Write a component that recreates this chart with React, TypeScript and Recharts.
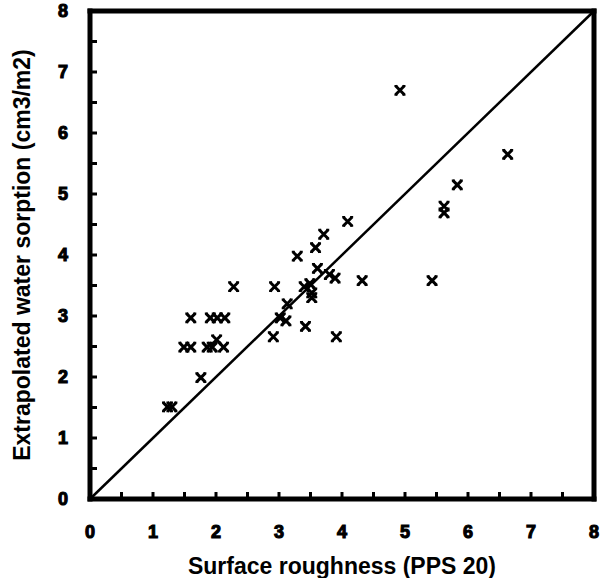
import React from "react";
import { ScatterChart, Scatter, XAxis, YAxis, ReferenceLine } from "recharts";

// surface roughness (PPS 20)
const roughness = [
  4.92, 6.63, 5.83, 5.62, 5.62, 4.09, 3.71, 3.58, 3.29, 3.61, 3.8, 3.89, 4.32,
  5.43, 2.28, 2.93, 3.4, 3.49, 3.52, 3.52, 3.13, 3.02, 3.11, 3.42, 2.91, 3.91,
  1.6, 1.91, 2.02, 2.14, 1.49, 1.6, 1.86, 1.94, 2.12, 2.01, 1.76, 1.23, 1.3,
];
// extrapolated water sorption (cm3/m2)
const sorption = [
  6.7, 5.65, 5.15, 4.8, 4.69, 4.55, 4.34, 4.12, 3.98, 3.78, 3.68, 3.62, 3.58,
  3.58, 3.48, 3.48, 3.48, 3.53, 3.38, 3.3, 3.2, 2.97, 2.92, 2.83, 2.66, 2.66,
  2.97, 2.97, 2.97, 2.97, 2.49, 2.49, 2.49, 2.49, 2.49, 2.61, 1.99, 1.51, 1.51,
];
// minor tick marks every 0.5, numbered labels on the integers
const axisTicks = [0, 0.5, 1, 1.5, 2, 2.5, 3, 3.5, 4, 4.5, 5, 5.5, 6, 6.5, 7, 7.5, 8];
const tickLabels = [0, 1, 2, 3, 4, 5, 6, 7, 8];
const diagonal = [
  { x: 0, y: 0 },
  { x: 8, y: 8 },
];

const points = roughness.map((x, i) => ({ x, y: sorption[i] }));
const xLabelPts = tickLabels.map((v) => ({ x: v, y: 0, label: v }));
const yLabelPts = tickLabels.map((v) => ({ x: 0, y: v, label: v }));

const FONT = "Liberation Sans, Arial, sans-serif";

const titleStyle = {
  fontFamily: FONT,
  fontWeight: 700,
  fontSize: 23,
  fill: "#000",
  textAnchor: "middle" as const,
};

const numStyle = {
  fontFamily: FONT,
  fontWeight: 700,
  fontSize: 18,
  fill: "#000",
  stroke: "#000",
  strokeWidth: 1.1,
};

function XLabel(props: any) {
  const { cx, cy, payload } = props;
  return (
    <text x={cx} y={cy + 39} textAnchor="middle" style={numStyle}>
      {payload.label}
    </text>
  );
}

function YLabel(props: any) {
  const { cx, cy, payload } = props;
  return (
    <text x={cx - 22} y={cy + 6} textAnchor="end" style={numStyle}>
      {payload.label}
    </text>
  );
}

function Cross(props: any) {
  const { cx, cy } = props;
  const s = 4.5;
  return (
    <g stroke="#000" strokeWidth={3} fill="none">
      <path d={`M${cx - s},${cy - s}L${cx + s},${cy + s}M${cx + s},${cy - s}L${cx - s},${cy + s}`} />
      <path
        strokeWidth={1.8}
        d={`M${cx - s - 1},${cy - s}H${cx - s + 2}M${cx + s - 2},${cy - s}H${cx + s + 1}M${cx - s - 1},${cy + s}H${cx - s + 2}M${cx + s - 2},${cy + s}H${cx + s + 1}`}
      />
    </g>
  );
}

// plot frame drawn as four thick segments
const frameSegs = [
  [{ x: 0, y: 0 }, { x: 8, y: 0 }],
  [{ x: 8, y: 0 }, { x: 8, y: 8 }],
  [{ x: 8, y: 8 }, { x: 0, y: 8 }],
  [{ x: 0, y: 8 }, { x: 0, y: 0 }],
];

export default function App() {
  return (
    <div style={{ position: "absolute", left: 0, top: 0, background: "#fff" }}>
      <ScatterChart
        width={600}
        height={578}
        margin={{ top: 11, right: 6, bottom: 0, left: 0 }}
      >
        <XAxis
          type="number"
          dataKey="x"
          domain={[0, 8]}
          ticks={axisTicks}
          interval={0}
          axisLine={false}
          tickLine={{ stroke: "#000", strokeWidth: 3 }}
          tickSize={-7}
          tickFormatter={() => ""}
          height={79}
          label={{
            value: "Surface roughness (PPS 20)",
            position: "insideBottom",
            offset: 4,
            style: titleStyle,
          }}
        />
        <YAxis
          type="number"
          dataKey="y"
          domain={[0, 8]}
          ticks={axisTicks}
          interval={0}
          axisLine={false}
          tickLine={{ stroke: "#000", strokeWidth: 3 }}
          tickSize={-7}
          tickFormatter={() => ""}
          width={90}
          label={{
            value: "Extrapolated water sorption (cm3/m2)",
            angle: -90,
            position: "insideLeft",
            offset: 22,
            style: titleStyle,
          }}
        />
        {frameSegs.map((seg, i) => (
          <ReferenceLine
            key={i}
            segment={seg}
            stroke="#000"
            strokeWidth={5}
            strokeLinecap="square"
            ifOverflow="visible"
          />
        ))}
        <ReferenceLine
          segment={diagonal}
          stroke="#000"
          strokeWidth={2.5}
          ifOverflow="visible"
        />
        <Scatter data={points} shape={Cross} isAnimationActive={false} />
        <Scatter data={xLabelPts} shape={XLabel} isAnimationActive={false} />
        <Scatter data={yLabelPts} shape={YLabel} isAnimationActive={false} />
      </ScatterChart>
    </div>
  );
}
